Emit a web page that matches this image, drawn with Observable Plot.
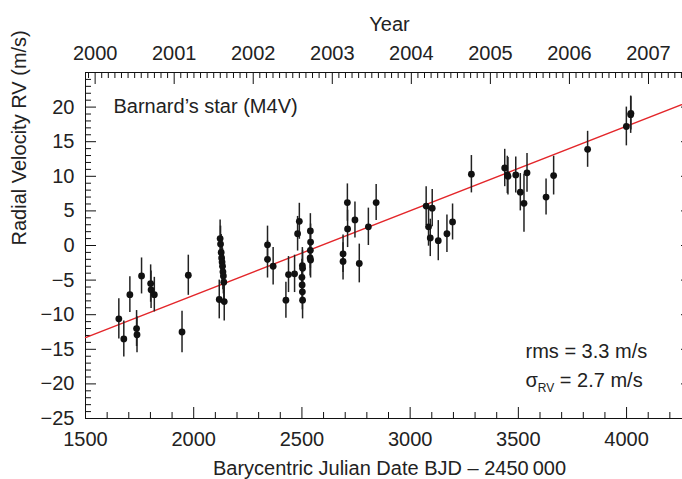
<!DOCTYPE html>
<html><head><meta charset="utf-8">
<script src="https://cdn.jsdelivr.net/npm/d3@7"></script>
<script src="https://cdn.jsdelivr.net/npm/@observablehq/plot@0.6"></script>
<style>
html,body{margin:0;padding:0;overflow:hidden;background:#fff;}
svg{max-width:none !important;}
</style></head><body><div id="chart"></div>
<script>
// ---- data ----
const bjd = [1654,1677,1705,1736,1738,1759,1801,1803,1818,1946,1975,
  2122,2124,2127,2129,2131,2133,2135,2137,2139,2118,2141,
  2341,2341,2367,2426,2438,2466,2480,2488,
  2502,2503,2500,2501,2502,2503,
  2539,2540,2539,2538,2540,
  2690,2690,2710,2711,2745,2765,2807,2843,
  3074,3085,3093,3102,3130,3170,3196,3283,
  3437,3449,3452,3488,3509,3526,3540,3628,3663,
  3820,3999,4019,4020];
const rv = [-10.6,-13.5,-7.1,-12.0,-12.9,-4.4,-5.5,-6.4,-7.1,-12.5,-4.3,
  1.0,0.2,-1.0,-1.8,-2.4,-3.0,-3.8,-4.4,-5.3,-7.8,-8.1,
  0.1,-2.0,-3.0,-7.9,-4.2,-4.1,1.7,3.5,
  -2.9,-3.3,-4.6,-5.7,-6.7,-7.9,
  2.1,0.5,-0.7,-1.8,-2.1,
  -1.2,-2.3,6.2,2.4,3.7,-2.6,2.7,6.2,
  5.7,2.7,1.1,5.4,0.7,1.7,3.4,10.3,
  11.2,10.2,10.0,10.2,7.7,6.1,10.5,7.0,10.1,
  13.9,17.2,18.9,19.1];
const err = [2.9,2.6,2.6,2.6,2.6,2.6,2.7,2.7,2.5,3.0,2.9,
  2.7,2.6,2.6,2.6,2.6,2.6,2.6,2.6,2.6,2.8,2.8,
  2.7,2.7,2.7,2.6,2.6,2.7,2.5,2.6,
  2.6,2.6,2.6,2.6,2.6,2.7,
  2.5,2.6,2.6,2.6,2.6,
  2.7,2.7,2.7,2.7,2.6,2.8,2.7,2.6,
  2.8,2.8,2.7,2.7,2.9,2.7,2.6,2.7,
  2.7,2.7,2.7,2.6,2.7,4.2,2.8,2.6,2.8,
  2.6,2.8,2.7,2.4];
const fitBjd = [1500, 4300];
const fitRv = [-13.3, 20.9];
const xTicks = [1500,2000,2500,3000,3500,4000];
const yTicks = [-25,-20,-15,-10,-5,0,5,10,15,20,25];
const yLabels = [-25,-20,-15,-10,-5,0,5,10,15,20];
const yearLabels = [2000,2001,2002,2003,2004,2005,2006,2007];
const year2000Bjd = 1544.5; // BJD-2450000 of 2000 Jan 1.5
const daysPerYear = 365.25;

// ---- derived tables ----
const pts = bjd.map((b,i) => ({b, v: rv[i], e: err[i]}));
const fit = fitBjd.map((b,i) => ({b, v: fitRv[i]}));
const xDomain = [1500, 4300];
const xMinor = d3.range(1500, 4301, 100).filter(d => !xTicks.includes(d));
const yMinor = d3.range(-25, 26, 1).filter(d => d % 5 !== 0);
const yearBjd = yearLabels.map(y => year2000Bjd + (y - 2000) * daysPerYear);
const yearOf = new Map(yearBjd.map((b,i) => [b, String(yearLabels[i])]));
const monthBjd = d3.range(-12, 12*9).map(m => year2000Bjd + m * daysPerYear / 12)
  .filter(b => b > xDomain[0] && b < xDomain[1])
  .filter(b => !yearBjd.some(y => Math.abs(y - b) < 1));
const fmtY = d => d < 0 ? "\u2212" + (-d) : String(d);

const ink = "#222";
const chart = Plot.plot({
  width: 692, height: 479,
  marginLeft: 85, marginRight: 1, marginTop: 72, marginBottom: 61,
  style: {fontFamily: "'Liberation Sans', Arial, sans-serif", fontSize: "20px", color: ink, background: "#fff", maxWidth: "none", overflow: "visible"},
  x: {domain: xDomain, axis: null},
  y: {domain: [-25, 25], axis: null},
  marks: [
    Plot.frame({stroke: "#111", strokeWidth: 1}),
    // bottom axis
    Plot.axisX({anchor: "bottom", ticks: xMinor, tickSize: -6, tickFormat: () => "", label: null, stroke: "#111"}),
    Plot.axisX({anchor: "bottom", ticks: xTicks, tickSize: -11, tickPadding: 24, tickFormat: d => String(d), label: null, stroke: "#111", fill: ink}),
    // top axis (years)
    Plot.axisX({anchor: "top", ticks: monthBjd, tickSize: -5, tickFormat: () => "", label: null, stroke: "#111"}),
    Plot.axisX({anchor: "top", ticks: yearBjd, tickSize: -11, tickPadding: 24, tickFormat: d => yearOf.get(d), label: null, stroke: "#111", fill: ink}),
    // left axis
    Plot.axisY({anchor: "left", ticks: yMinor, tickSize: -6, tickFormat: () => "", label: null, stroke: "#111"}),
    Plot.axisY({anchor: "left", ticks: yTicks, tickSize: -11, tickFormat: () => "", label: null, stroke: "#111"}),
    Plot.axisY({anchor: "left", ticks: yLabels, tickSize: 0, tickPadding: 11, tickFormat: fmtY, label: null, fill: ink}),
    // right axis
    Plot.axisY({anchor: "right", ticks: yTicks, tickSize: -11, tickFormat: () => "", label: null, stroke: "#111"}),
    // axis titles
    Plot.text(["Year"], {frameAnchor: "top", dx: 1, dy: -42, lineAnchor: "bottom", fill: ink}),
    Plot.text(["Barycentric Julian Date BJD \u2013 2450\u2009000"], {frameAnchor: "bottom", dx: 1, dy: 56, lineAnchor: "bottom", fill: ink}),
    Plot.text(["Radial Velocity RV (m/s)"], {frameAnchor: "left", rotate: -90, dx: -60, lineAnchor: "bottom", fill: ink}),
    // annotations
    Plot.text(["Barnard\u2019s star (M4V)"], {frameAnchor: "top-left", dx: 28, dy: 40, lineAnchor: "bottom", textAnchor: "start", fill: ink}),
    Plot.text(["rms = 3.3 m/s"], {frameAnchor: "top-left", dx: 440, dy: 285, lineAnchor: "bottom", textAnchor: "start", fill: ink}),
    Plot.text(["SIGMA"], {frameAnchor: "top-left", dx: 440, dy: 314, lineAnchor: "bottom", textAnchor: "start", fill: ink, className: "sigma-note"}),
    // fit line
    Plot.line(fit, {x: "b", y: "v", stroke: "#e3262a", strokeWidth: 1.4}),
    // error bars and points
    Plot.ruleX(pts, {x: "b", y1: d => d.v - d.e, y2: d => d.v + d.e, stroke: "#222", strokeWidth: 1.5}),
    Plot.dot(pts, {x: "b", y: "v", r: 3.4, fill: "#111", stroke: "none"})
  ]
});
document.getElementById("chart").appendChild(chart);
// subscript for sigma_RV
d3.select(chart).selectAll(".sigma-note text").each(function() {
  const t = d3.select(this);
  t.text(null);
  t.append("tspan").text("\u03c3");
  t.append("tspan").attr("font-size", 12).attr("dy", 5).text("RV");
  t.append("tspan").attr("dy", -5).text(" = 2.7 m/s");
});
</script></body></html>
